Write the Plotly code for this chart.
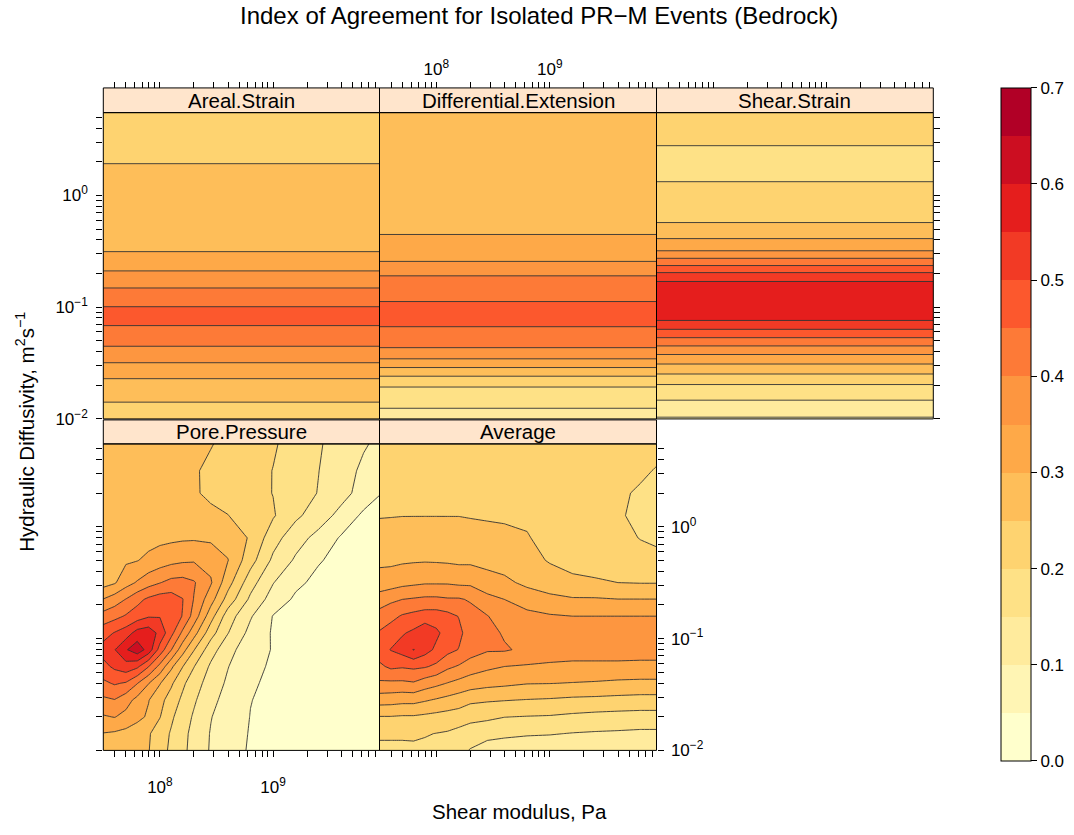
import math
import plotly.graph_objects as go

W, H = 1074, 835
FONT = "Liberation Sans, Arial, Helvetica, sans-serif"

# ---------------------------------------------------------------- data
# sampling grid of the 2-D panels (log10 units)
log_shear_modulus = [7.5, 7.6, 7.7, 7.8, 7.9, 8.0, 8.1, 8.2, 8.3, 8.45,
                     8.6, 8.8, 9.0, 9.2, 9.4, 9.6, 9.8, 9.94]
log_diffusivity = [-2.0, -1.85, -1.7, -1.55, -1.4, -1.25, -1.1, -0.95, -0.8,
                   -0.65, -0.5, -0.3, -0.1, 0.1, 0.3, 0.5, 0.74]

# Pore.Pressure index of agreement, one row per diffusivity value
pore_pressure = [
    [0.28, 0.275, 0.27, 0.26, 0.252, 0.22, 0.19, 0.16, 0.135, 0.095, 0.07, 0.045, 0.035, 0.03, 0.025, 0.02, 0.02, 0.02],
    [0.298, 0.293, 0.285, 0.27, 0.255, 0.225, 0.195, 0.165, 0.135, 0.097, 0.072, 0.047, 0.037, 0.03, 0.025, 0.022, 0.02, 0.02],
    [0.345, 0.352, 0.335, 0.315, 0.292, 0.252, 0.208, 0.175, 0.144, 0.102, 0.076, 0.049, 0.038, 0.032, 0.027, 0.022, 0.02, 0.02],
    [0.39, 0.398, 0.37, 0.335, 0.302, 0.265, 0.228, 0.19, 0.157, 0.113, 0.083, 0.051, 0.04, 0.033, 0.028, 0.024, 0.021, 0.02],
    [0.44, 0.455, 0.445, 0.402, 0.352, 0.303, 0.258, 0.21, 0.172, 0.128, 0.092, 0.055, 0.042, 0.035, 0.03, 0.025, 0.022, 0.02],
    [0.485, 0.51, 0.53, 0.51, 0.452, 0.385, 0.31, 0.252, 0.202, 0.142, 0.102, 0.06, 0.045, 0.037, 0.031, 0.026, 0.023, 0.021],
    [0.52, 0.548, 0.595, 0.63, 0.58, 0.48, 0.402, 0.32, 0.253, 0.17, 0.12, 0.065, 0.048, 0.04, 0.033, 0.028, 0.024, 0.022],
    [0.48, 0.503, 0.525, 0.57, 0.58, 0.535, 0.465, 0.39, 0.32, 0.22, 0.152, 0.085, 0.045, 0.038, 0.033, 0.028, 0.025, 0.023],
    [0.42, 0.435, 0.455, 0.475, 0.495, 0.497, 0.48, 0.448, 0.38, 0.27, 0.175, 0.105, 0.048, 0.04, 0.035, 0.03, 0.026, 0.024],
    [0.352, 0.375, 0.402, 0.435, 0.46, 0.475, 0.475, 0.452, 0.398, 0.32, 0.23, 0.14, 0.078, 0.042, 0.036, 0.031, 0.027, 0.025],
    [0.28, 0.295, 0.33, 0.355, 0.38, 0.398, 0.415, 0.418, 0.405, 0.355, 0.27, 0.17, 0.102, 0.06, 0.038, 0.032, 0.028, 0.026],
    [0.28, 0.285, 0.293, 0.298, 0.312, 0.325, 0.335, 0.342, 0.345, 0.335, 0.302, 0.22, 0.14, 0.093, 0.054, 0.036, 0.03, 0.027],
    [0.27, 0.272, 0.275, 0.278, 0.282, 0.287, 0.29, 0.293, 0.294, 0.29, 0.28, 0.245, 0.17, 0.12, 0.085, 0.045, 0.035, 0.03],
    [0.27, 0.27, 0.27, 0.27, 0.27, 0.27, 0.27, 0.268, 0.265, 0.258, 0.251, 0.228, 0.205, 0.16, 0.125, 0.085, 0.04, 0.032],
    [0.272, 0.272, 0.272, 0.272, 0.271, 0.27, 0.268, 0.262, 0.254, 0.243, 0.232, 0.215, 0.199, 0.175, 0.148, 0.118, 0.08, 0.052],
    [0.275, 0.275, 0.275, 0.275, 0.275, 0.275, 0.27, 0.262, 0.254, 0.242, 0.232, 0.217, 0.199, 0.175, 0.151, 0.122, 0.09, 0.07],
    [0.275, 0.275, 0.275, 0.275, 0.275, 0.275, 0.275, 0.27, 0.263, 0.252, 0.24, 0.225, 0.205, 0.182, 0.155, 0.13, 0.105, 0.09],
]

# Average index of agreement, one column per shear-modulus value
average_by_modulus = [
    [0.185, 0.21, 0.248, 0.322, 0.392, 0.44, 0.478, 0.455, 0.42, 0.375, 0.32, 0.29, 0.27, 0.247, 0.235, 0.228, 0.225],
    [0.185, 0.21, 0.248, 0.32, 0.39, 0.46, 0.502, 0.475, 0.435, 0.39, 0.325, 0.29, 0.27, 0.248, 0.236, 0.229, 0.226],
    [0.185, 0.21, 0.245, 0.315, 0.39, 0.455, 0.52, 0.495, 0.455, 0.40, 0.335, 0.293, 0.272, 0.249, 0.237, 0.23, 0.227],
    [0.185, 0.212, 0.245, 0.315, 0.395, 0.46, 0.552, 0.51, 0.465, 0.405, 0.34, 0.295, 0.274, 0.249, 0.238, 0.231, 0.228],
    [0.19, 0.203, 0.24, 0.305, 0.375, 0.455, 0.52, 0.535, 0.475, 0.41, 0.345, 0.296, 0.275, 0.249, 0.238, 0.232, 0.229],
    [0.185, 0.199, 0.235, 0.295, 0.362, 0.44, 0.49, 0.51, 0.475, 0.41, 0.345, 0.295, 0.275, 0.249, 0.238, 0.232, 0.23],
    [0.18, 0.195, 0.23, 0.285, 0.348, 0.41, 0.465, 0.48, 0.465, 0.405, 0.345, 0.293, 0.274, 0.249, 0.238, 0.232, 0.23],
    [0.165, 0.185, 0.225, 0.275, 0.335, 0.395, 0.448, 0.46, 0.448, 0.405, 0.34, 0.29, 0.273, 0.249, 0.238, 0.232, 0.23],
    [0.147, 0.175, 0.215, 0.26, 0.325, 0.375, 0.425, 0.43, 0.42, 0.395, 0.34, 0.29, 0.27, 0.247, 0.236, 0.231, 0.23],
    [0.128, 0.165, 0.21, 0.255, 0.315, 0.36, 0.405, 0.415, 0.402, 0.365, 0.32, 0.285, 0.265, 0.245, 0.235, 0.23, 0.229],
    [0.122, 0.16, 0.201, 0.252, 0.31, 0.35, 0.405, 0.395, 0.375, 0.35, 0.31, 0.28, 0.262, 0.243, 0.233, 0.229, 0.228],
    [0.118, 0.155, 0.198, 0.248, 0.302, 0.345, 0.39, 0.39, 0.365, 0.325, 0.29, 0.27, 0.254, 0.24, 0.232, 0.228, 0.227],
    [0.115, 0.153, 0.196, 0.245, 0.301, 0.342, 0.375, 0.38, 0.355, 0.31, 0.28, 0.245, 0.23, 0.225, 0.225, 0.225, 0.225],
    [0.11, 0.148, 0.19, 0.24, 0.298, 0.34, 0.37, 0.375, 0.35, 0.305, 0.26, 0.235, 0.225, 0.222, 0.222, 0.222, 0.222],
    [0.108, 0.145, 0.185, 0.238, 0.295, 0.34, 0.37, 0.375, 0.35, 0.305, 0.255, 0.232, 0.222, 0.218, 0.216, 0.218, 0.22],
    [0.106, 0.143, 0.182, 0.235, 0.29, 0.34, 0.37, 0.375, 0.35, 0.301, 0.25, 0.228, 0.215, 0.205, 0.205, 0.21, 0.215],
    [0.105, 0.14, 0.18, 0.232, 0.288, 0.338, 0.37, 0.375, 0.35, 0.301, 0.248, 0.22, 0.198, 0.19, 0.196, 0.205, 0.212],
    [0.104, 0.14, 0.18, 0.232, 0.288, 0.338, 0.37, 0.375, 0.35, 0.301, 0.248, 0.215, 0.19, 0.182, 0.185, 0.198, 0.21],
]

# strain panels only vary with diffusivity: one profile each
log_diffusivity_profile = [-2.0, -1.9, -1.8, -1.7, -1.6, -1.5, -1.4, -1.3, -1.2, -1.1,
                           -1.0, -0.9, -0.8, -0.7, -0.6, -0.5, -0.4, -0.3, -0.2, -0.1,
                           0.0, 0.1, 0.2, 0.3, 0.4, 0.5, 0.6, 0.74]
areal_strain = [0.22, 0.24, 0.26, 0.285, 0.31, 0.349, 0.385, 0.415, 0.442, 0.465,
                0.451, 0.425, 0.39, 0.357, 0.328, 0.299, 0.292, 0.285, 0.278, 0.272,
                0.266, 0.26, 0.255, 0.249, 0.244, 0.24, 0.237, 0.234]
differential_extension = [0.13, 0.151, 0.177, 0.204, 0.26, 0.327, 0.388, 0.42, 0.445, 0.465,
                          0.46, 0.44, 0.42, 0.395, 0.352, 0.33, 0.303, 0.297, 0.292, 0.288,
                          0.285, 0.283, 0.281, 0.28, 0.279, 0.278, 0.277, 0.276]
shear_strain = [0.095, 0.127, 0.161, 0.196, 0.249, 0.305, 0.364, 0.432, 0.499, 0.562,
                0.58, 0.588, 0.568, 0.507, 0.428, 0.352, 0.305, 0.267, 0.237, 0.222,
                0.212, 0.202, 0.193, 0.188, 0.196, 0.205, 0.21, 0.215]

# contour levels (0 .. 0.7 every 0.05) and their fill colours (YlOrRd ramp)
level_start, level_end, level_step = 0.0, 0.7, 0.05
level_colors = ['#FFFFCC', '#FFF5B4', '#FFEB9D', '#FEE186', '#FED370', '#FEBE59', '#FEA948',
                '#FD9640', '#FD7A37', '#FC582D', '#F23A25', '#E51E1D', '#CC0E21', '#B10026']
colorbar_ticks = [0.0, 0.1, 0.2, 0.3, 0.4, 0.5, 0.6, 0.7]

# axis decoration
x_range = [7.5, 9.94]
y_range = [-2.0, 0.74]
x_decades = [7, 8, 9]
y_decades = [-2, -1, 0]
minor_multipliers = [2, 3, 4, 5, 6, 7, 8, 9]

# ---------------------------------------------------------------- layout geometry (pixels)
col_px = [(103.3, 379.5), (379.5, 656.5), (656.5, 933.3)]
row_px = [(114.0, 424.0), (449.3, 759.5)]
strip_px = [(89.0, 114.0), (425.0, 449.3)]


def px_x(p):
    return p / W


def px_y(p):
    return 1 - p / H


def inside(v, rng):
    return rng[0] - 1e-9 <= v <= rng[1] + 1e-9


def log_ticks(decades, rng):
    major = [d for d in decades if inside(d, rng)]
    text = ['10<sup>%s</sup>' % str(d).replace('-', '\u2212') for d in major]
    minor = [d + math.log10(m) for d in decades for m in minor_multipliers
             if inside(d + math.log10(m), rng)]
    return major, text, minor


xt_vals, xt_text, xt_minor = log_ticks(x_decades, x_range)
yt_vals, yt_text, yt_minor = log_ticks(y_decades, y_range)

# one flat colour per 0.05-wide band
stepped = []
n = len(level_colors)
for i, c in enumerate(level_colors):
    stepped.append([i / n, c])
    stepped.append([(i + 1) / n, c])

average = [list(r) for r in zip(*average_by_modulus)]


def band(profile):
    return [[v, v] for v in profile]


panels = [
    # name, col, row, x, y, z
    ("Areal.Strain", 0, 0, x_range, log_diffusivity_profile, band(areal_strain)),
    ("Differential.Extension", 1, 0, x_range, log_diffusivity_profile, band(differential_extension)),
    ("Shear.Strain", 2, 0, x_range, log_diffusivity_profile, band(shear_strain)),
    ("Pore.Pressure", 0, 1, log_shear_modulus, log_diffusivity, pore_pressure),
    ("Average", 1, 1, log_shear_modulus, log_diffusivity, average),
]

fig = go.Figure()
layout = dict(
    width=W, height=H, margin=dict(l=0, r=0, t=0, b=0),
    paper_bgcolor='white', plot_bgcolor='white', showlegend=False,
    font=dict(family=FONT, color='black'),
)
shapes, annotations = [], []

tick_font = dict(family=FONT, size=17, color='black')
label_size = 20.5


def minor_ticks(vals, show=True):
    return dict(tickmode='array', tickvals=vals, ticks='outside' if show else '',
                ticklen=6, tickwidth=1, tickcolor='black', showgrid=False)


for i, (name, col, row, xs, ys, zs) in enumerate(panels, start=1):
    fig.add_trace(go.Contour(
        x=xs, y=ys, z=zs,
        xaxis='x%d' % i, yaxis='y%d' % i,
        autocontour=False,
        contours=dict(start=level_start, end=level_end, size=level_step,
                      coloring='fill', showlines=True),
        line=dict(color='#333333', width=0.9, smoothing=0),
        colorscale=stepped,
        showscale=False, hoverinfo='skip',
    ))

    x0, x1 = col_px[col]
    y0, y1 = row_px[row]
    sy0, sy1 = strip_px[row]

    xa = dict(domain=[px_x(x0), px_x(x1)], range=x_range, showgrid=False, zeroline=False,
              showline=False, tickmode='array', tickvals=xt_vals, ticktext=xt_text,
              ticks='outside', ticklen=6, tickwidth=1, tickcolor='black',
              minor=minor_ticks(xt_minor),
              tickfont=tick_font, fixedrange=True)
    ya = dict(domain=[px_y(y1), px_y(y0)], range=y_range, showgrid=False, zeroline=False,
              showline=False, tickmode='array', tickvals=yt_vals, ticktext=yt_text,
              ticks='outside', ticklen=6, tickwidth=1, tickcolor='black',
              minor=minor_ticks(yt_minor),
              tickfont=tick_font, anchor='x%d' % i, fixedrange=True)

    if row == 0:
        xa.update(side='top', anchor='free', position=px_y(sy0),
                  showticklabels=(col == 1))
        if col == 0:
            ya.update(side='left', showticklabels=True, ticklabelstandoff=5)
        elif col == 2:
            ya.update(side='right', showticklabels=False)
        else:
            ya.update(ticks='', showticklabels=False, minor=minor_ticks(yt_minor, False))
    else:
        xa.update(side='bottom', anchor='y%d' % i, showticklabels=(col == 0),
                  ticklabelstandoff=15)
        if col == 0:
            ya.update(side='left', showticklabels=False)
        else:
            ya.update(side='right', showticklabels=True, ticklabelstandoff=4)

    layout['xaxis%d' % i if i > 1 else 'xaxis'] = xa
    layout['yaxis%d' % i if i > 1 else 'yaxis'] = ya

    # strip
    shapes.append(dict(type='rect', xref='paper', yref='paper',
                       x0=px_x(x0), x1=px_x(x1), y0=px_y(sy1), y1=px_y(sy0),
                       fillcolor='#FFE5CC', line=dict(color='black', width=1), layer='above'))
    annotations.append(dict(text=name, xref='paper', yref='paper',
                            x=px_x((x0 + x1) / 2), y=px_y((sy0 + sy1) / 2),
                            showarrow=False, xanchor='center', yanchor='middle',
                            font=dict(family=FONT, size=label_size, color='black')))
    # panel frame
    shapes.append(dict(type='rect', xref='paper', yref='paper',
                       x0=px_x(x0), x1=px_x(x1), y0=px_y(y1), y1=px_y(y0),
                       fillcolor='rgba(0,0,0,0)', line=dict(color='black', width=1),
                       layer='above'))

# colour key
fig.add_trace(go.Scatter(
    x=[None], y=[None], mode='markers', xaxis='x', yaxis='y', hoverinfo='skip',
    marker=dict(color=[level_start], colorscale=stepped, cmin=level_start, cmax=level_end,
                showscale=True,
                colorbar=dict(thickness=30, thicknessmode='pixels',
                              len=673, lenmode='pixels',
                              x=px_x(1001), xanchor='left', xpad=0,
                              y=px_y(429.5), yanchor='middle', ypad=0,
                              outlinewidth=1, outlinecolor='black',
                              tickmode='array', tickvals=colorbar_ticks,
                              ticktext=['%.1f' % t for t in colorbar_ticks],
                              ticks='outside', ticklen=6, tickcolor='black',
                              tickfont=tick_font)),
))

annotations.append(dict(text='Index of Agreement for Isolated PR\u2212M Events (Bedrock)',
                        xref='paper', yref='paper', x=px_x(539), y=px_y(16),
                        showarrow=False, xanchor='center', yanchor='middle',
                        font=dict(family=FONT, size=24, color='black')))
annotations.append(dict(text='Shear modulus, Pa', xref='paper', yref='paper',
                        x=px_x(519), y=px_y(821), showarrow=False,
                        xanchor='center', yanchor='middle',
                        font=dict(family=FONT, size=label_size, color='black')))
annotations.append(dict(text='Hydraulic Diffusivity, m<sup>2</sup>s<sup>\u22121</sup>',
                        xref='paper', yref='paper', x=px_x(25), y=px_y(437),
                        showarrow=False, textangle=-90,
                        xanchor='center', yanchor='middle',
                        font=dict(family=FONT, size=label_size, color='black')))

layout['shapes'] = shapes
layout['annotations'] = annotations
fig.update_layout(**layout)

fig.write_html("out.html")
